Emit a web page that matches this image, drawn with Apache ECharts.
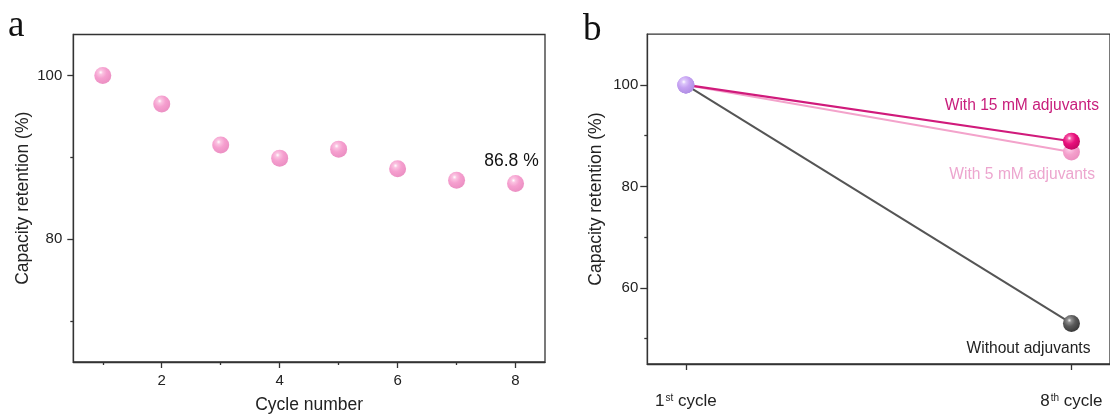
<!DOCTYPE html>
<html>
<head>
<meta charset="utf-8">
<script src="https://cdn.jsdelivr.net/npm/echarts@6/dist/echarts.min.js"></script>
<style>
html,body{margin:0;padding:0;background:#fff;}
#chart{width:1110px;height:419px;}
</style>
</head>
<body>
<div id="chart"></div>
<script>
// ---------- Data ----------
// Panel a
var cycles = [1, 2, 3, 4, 5, 6, 7, 8];
var retentionA = [100, 96.5, 91.5, 89.9, 91.0, 88.6, 87.2, 86.8];
var xMajorA = [2, 4, 6, 8];
var xMinorA = [1, 3, 5, 7];
var yMajorA = [80, 100];
var yMinorA = [70, 90];
var annotationA = '86.8 %';

// Panel b
var stagePos = [0, 1];
var stageNames = ['1st', '8th'];
var with15 = [100, 88.9];
var with5 = [100, 86.8];
var without = [100, 53.0];
var seriesNamesB = ['With 15 mM adjuvants', 'With 5 mM adjuvants', 'Without adjuvants'];
var yMajorB = [60, 80, 100];
var yMinorB = [50, 70, 90];

// ---------- Styles ----------
var SANS = '"Liberation Sans", Arial, sans-serif';
var AXIS = '#333333';

function sphere(c0, c1, c2, c3) {
  return {
    type: 'radial', x: 0.38, y: 0.32, r: 0.7,
    colorStops: [
      {offset: 0, color: c0},
      {offset: 0.18, color: c1},
      {offset: 0.5, color: c2},
      {offset: 1, color: c3}
    ]
  };
}
var pinkA = sphere('#ffffff', '#f9b3d9', '#f387c3', '#e673b3');
var lavender = sphere('#ffffff', '#dcc6fa', '#c6a2f2', '#b08ee4');
var magenta = sphere('#ffffff', '#f55aa6', '#e8107c', '#c40864');
var lightPink = sphere('#ffffff', '#fabfe0', '#f4a0cc', '#ec8fc0');
var grey = sphere('#eeeeee', '#8e8e8e', '#5a5a5a', '#383838');

function pairs(xs, ys) {
  return ys.map(function (y, i) { return [xs[i], y]; });
}

var dataA = pairs(cycles, retentionA);
var lastA = retentionA.length - 1;

function lineData(ys, endColor, labelText, labelColor, labelPos) {
  return ys.map(function (y, i) {
    var item = {value: [stagePos[i], y], itemStyle: {color: i === 0 ? lavender : endColor}};
    if (i === ys.length - 1) {
      item.label = {
        show: true, position: labelPos, align: 'right', verticalAlign: 'middle',
        formatter: labelText, fontFamily: SANS, fontSize: 15.6, color: labelColor
      };
    }
    return item;
  });
}

var tick = function (vals, len) {
  return {show: true, customValues: vals, length: len, lineStyle: {color: AXIS, width: 1.3}};
};
var axisLine = {show: true, onZero: false, lineStyle: {color: AXIS, width: 1.3}};
var noLine = {show: false, onZero: false};

var option = {
  backgroundColor: '#ffffff',
  animation: false,
  title: [
    {text: 'a', left: 8, top: 8, padding: 0,
     textStyle: {fontFamily: '"Liberation Serif", "Times New Roman", serif', fontSize: 37, fontWeight: 'normal', color: '#111'}},
    {text: 'b', left: 583, top: 12, padding: 0,
     textStyle: {fontFamily: '"Liberation Serif", "Times New Roman", serif', fontSize: 37, fontWeight: 'normal', color: '#111'}}
  ],
  grid: [
    {left: 73.3, top: 34.5, width: 471.7, height: 329.5, show: true, borderColor: AXIS, borderWidth: 1.3, backgroundColor: 'transparent'},
    {left: 647.3, top: 34.2, width: 470.8, height: 329.8, show: true, borderColor: AXIS, borderWidth: 1.3, backgroundColor: 'transparent'}
  ],
  xAxis: [
    {
      gridIndex: 0, type: 'value', min: 0.5, max: 8.5, position: 'bottom',
      axisLine: axisLine,
      axisTick: tick(xMajorA, 6),
      axisLabel: {customValues: xMajorA, margin: 11, fontFamily: SANS, fontSize: 15, color: '#222'},
      splitLine: {show: false},
      name: 'Cycle number', nameLocation: 'middle', nameGap: 34,
      nameTextStyle: {fontFamily: SANS, fontSize: 17.5, color: '#222'}
    },
    {
      gridIndex: 0, type: 'value', min: 0.5, max: 8.5, position: 'bottom',
      axisLine: noLine,
      axisTick: tick(xMinorA, 3),
      axisLabel: {show: false},
      splitLine: {show: false}
    },
    {
      gridIndex: 1, type: 'value', min: -0.1, max: 1.1, position: 'bottom',
      axisLine: axisLine,
      axisTick: tick(stagePos, 6),
      axisLabel: {
        customValues: stagePos, margin: 29, color: '#222',
        formatter: function (v) {
          var i = stagePos.indexOf(v);
          var s = stageNames[i];
          return '{n|' + s.charAt(0) + '}{s|' + s.slice(1) + '}{c| cycle}';
        },
        rich: {
          n: {fontFamily: SANS, fontSize: 17, color: '#222'},
          s: {fontFamily: SANS, fontSize: 10, color: '#222', verticalAlign: 'top', padding: [0, 0, 6, 1]},
          c: {fontFamily: SANS, fontSize: 17, color: '#222'}
        }
      },
      splitLine: {show: false}
    }
  ],
  yAxis: [
    {
      gridIndex: 0, type: 'value', min: 65, max: 105, position: 'left',
      axisLine: axisLine,
      axisTick: tick(yMajorA, 6),
      axisLabel: {customValues: yMajorA, margin: 11, fontFamily: SANS, fontSize: 15, color: '#222'},
      splitLine: {show: false},
      name: 'Capacity retention (%)', nameLocation: 'middle', nameGap: 41,
      nameTextStyle: {fontFamily: SANS, fontSize: 17.5, color: '#222'}
    },
    {
      gridIndex: 0, type: 'value', min: 65, max: 105, position: 'left',
      axisLine: noLine,
      axisTick: tick(yMinorA, 3),
      axisLabel: {show: false},
      splitLine: {show: false}
    },
    {
      gridIndex: 1, type: 'value', min: 45, max: 110, position: 'left',
      axisLine: axisLine,
      axisTick: tick(yMajorB, 7),
      axisLabel: {customValues: yMajorB, margin: 9, fontFamily: SANS, fontSize: 15, color: '#222'},
      splitLine: {show: false},
      name: 'Capacity retention (%)', nameLocation: 'middle', nameGap: 42,
      nameTextStyle: {fontFamily: SANS, fontSize: 17.5, color: '#222'}
    },
    {
      gridIndex: 1, type: 'value', min: 45, max: 110, position: 'left',
      axisLine: noLine,
      axisTick: tick(yMinorB, 3),
      axisLabel: {show: false},
      splitLine: {show: false}
    }
  ],
  series: [
    {
      type: 'scatter', xAxisIndex: 0, yAxisIndex: 0,
      symbol: 'circle', symbolSize: 17,
      itemStyle: {color: pinkA},
      label: {
        show: true, position: 'top', distance: 5, offset: [-4, 0],
        formatter: function (p) { return p.dataIndex === lastA ? annotationA : ''; },
        fontFamily: SANS, fontSize: 17.5, color: '#111111', opacity: 1
      },
      data: dataA
    },
    {
      name: seriesNamesB[2], type: 'line', xAxisIndex: 2, yAxisIndex: 2,
      symbol: 'circle', symbolSize: 17, showAllSymbol: true,
      lineStyle: {color: '#555555', width: 2},
      data: lineData(without, grey, seriesNamesB[2], '#222222', [27.5, 33.5])
    },
    {
      name: seriesNamesB[1], type: 'line', xAxisIndex: 2, yAxisIndex: 2,
      symbol: 'circle', symbolSize: 17, showAllSymbol: true,
      lineStyle: {color: '#f3a3cb', width: 2},
      data: lineData(with5, lightPink, seriesNamesB[1], '#eda6cf', [32, 31.5])
    },
    {
      name: seriesNamesB[0], type: 'line', xAxisIndex: 2, yAxisIndex: 2,
      symbol: 'circle', symbolSize: 17, showAllSymbol: true,
      lineStyle: {color: '#d01a7b', width: 2.2},
      data: lineData(with15, magenta, seriesNamesB[0], '#c81e7c', [36, -27.5])
    }
  ]
};

var chart = echarts.init(document.getElementById('chart'), null, {renderer: 'canvas'});
chart.setOption(option);
</script>
</body>
</html>
